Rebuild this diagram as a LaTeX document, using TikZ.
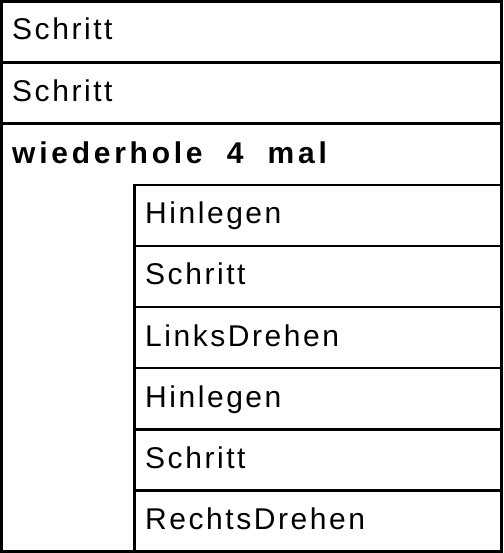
\documentclass[tikz,border=0pt]{standalone}
\usepackage{fontspec}
\setmainfont{Liberation Sans}[LetterSpace=8.5]
\newfontfamily\boldspaced{Liberation Sans}[LetterSpace=12.5]
\usetikzlibrary{calc}
\tikzset{
  x=1pt, y=-1pt,
  rowbox/.style={draw, line width=2.6pt, rectangle, inner sep=0pt, outer sep=0pt, anchor=north west, minimum height=61.11pt},
  lbl/.style={anchor=base west, inner sep=0pt, font=\fontsize{30}{34}\selectfont},
}
\begin{document}
\begin{tikzpicture}
\useasboundingbox (0,0) rectangle (503,553);
% outer rows
\node[rowbox, minimum width=500pt] (r1) at (1.5,1.5) {};
\node[rowbox, minimum width=500pt] (r2) at (r1.south west) {};
\node[rowbox, minimum width=500pt, minimum height=427.77pt] (loop) at (r2.south west) {};
% inner rows
\node[rowbox, minimum width=367pt] (i1) at ($(loop.north west)+(133,61.11)$) {};
\node[rowbox, minimum width=367pt] (i2) at (i1.south west) {};
\node[rowbox, minimum width=367pt] (i3) at (i2.south west) {};
\node[rowbox, minimum width=367pt] (i4) at (i3.south west) {};
\node[rowbox, minimum width=367pt] (i5) at (i4.south west) {};
\node[rowbox, minimum width=367pt] (i6) at (i5.south west) {};
% labels
\node[lbl] (t1) at ($(r1.north west)+(10.5,38.5)$) {Schritt};
\node[lbl] (t2) at ($(r2.north west)+(10.5,38.5)$) {Schritt};
\node[lbl, font=\fontsize{30}{34}\selectfont\boldspaced\bfseries] (t3) at ($(loop.north west)+(10.5,40)$) {wiederhole\ \ 4\ \ mal};
\node[lbl] (u1) at ($(i1.north west)+(10.5,39)$) {Hinlegen};
\node[lbl] (u2) at ($(i2.north west)+(10.5,39)$) {Schritt};
\node[lbl] (u3) at ($(i3.north west)+(10.5,39)$) {LinksDrehen};
\node[lbl] (u4) at ($(i4.north west)+(10.5,39)$) {Hinlegen};
\node[lbl] (u5) at ($(i5.north west)+(10.5,39)$) {Schritt};
\node[lbl] (u6) at ($(i6.north west)+(10.5,39)$) {RechtsDrehen};
\end{tikzpicture}
\end{document}
